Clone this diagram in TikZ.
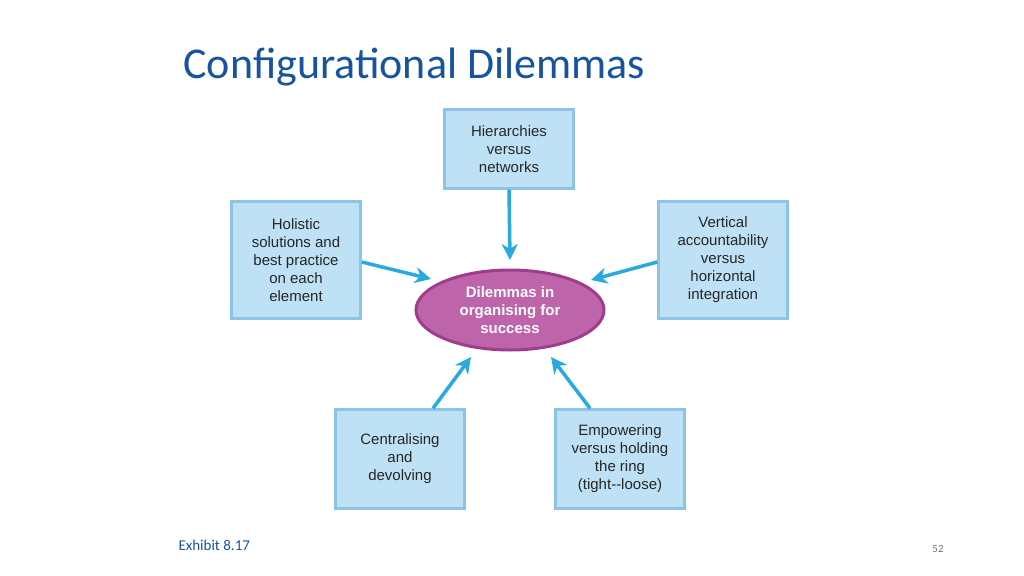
\documentclass[tikz,border=0pt]{standalone}
\usepackage{fontspec}
\setmainfont{Carlito}
\newfontfamily\arialf{Liberation Sans}
\usetikzlibrary{shapes.geometric,arrows.meta}
\definecolor{titleblue}{RGB}{22,84,160}
\definecolor{boxfill}{RGB}{190,225,245}
\definecolor{boxedge}{RGB}{140,195,230}
\definecolor{arrowblue}{RGB}{40,170,225}
\definecolor{ellfill}{RGB}{190,100,170}
\definecolor{elledge}{RGB}{160,60,140}
\tikzset{
 box/.style={draw=boxedge,line width=2.5pt,fill=boxfill,minimum width=129pt,inner sep=0pt,align=center,font=\arialf\fontsize{15}{18}\selectfont,text=black!85},
 arr/.style={draw=arrowblue,line width=3.5pt,-{Stealth[length=16pt,width=16pt,inset=5pt]}}
}
\begin{document}
\begin{tikzpicture}[x=1pt,y=-1pt]
\useasboundingbox (0,0) rectangle (1024,575);
\fill[white] (0,0) rectangle (1024,575);
\node[anchor=west,text=titleblue,font=\fontsize{44}{50}\selectfont] (title) at (180,67) {Configurational Dilemmas};
\node[box,minimum height=79pt] (top) at (509,149) {Hierarchies\\versus\\networks};
\node[box,minimum height=117pt] (left) at (296,260) {Holistic\\solutions and\\best practice\\on each\\element};
\node[box,minimum height=117pt] (right) at (723,260) {Vertical\\accountability\\versus\\horizontal\\integration};
\node[box,minimum height=99pt] (bl) at (400,459) {Centralising\\and\\devolving};
\node[box,minimum height=99pt] (br) at (620,459) {Empowering\\versus holding\\the ring\\(tight--loose)};
\node[ellipse,draw=elledge,line width=3pt,fill=ellfill,minimum width=188pt,minimum height=80pt,inner sep=0pt,align=center,text=white,font=\arialf\bfseries\fontsize{15}{18}\selectfont] (ell) at (510,310) {Dilemmas in\\organising for\\success};
\draw[arr] (top.south) -- (510,260);
\draw[arr] (left.east |- 0,262) -- (431,279);
\draw[arr] (right.west |- 0,262) -- (591,280);
\draw[arr] (bl.north -| 433,0) -- (471,357);
\draw[arr] (br.north -| 590,0) -- (551,357);
\node[anchor=west,font=\fontsize{15}{18}\selectfont,text=titleblue] (ex) at (175,545) {Exhibit 8.17};
\node[font=\fontsize{11}{13}\selectfont,text=black!55] (pg) at (938,549) {52};
\end{tikzpicture}
\end{document}
